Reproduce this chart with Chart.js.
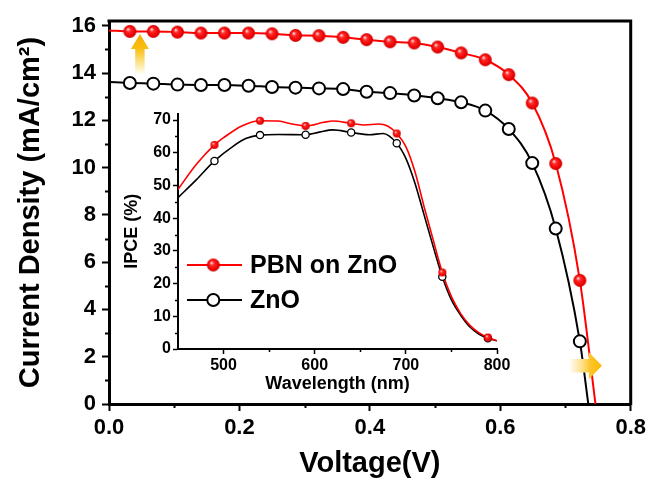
<!DOCTYPE html>
<html>
<head>
<meta charset="utf-8">
<script src="https://cdn.jsdelivr.net/npm/chart.js@4.4.1/dist/chart.umd.min.js"></script>
<style>
  html, body { margin: 0; padding: 0; background: #fff; }
  #wrap { position: relative; width: 650px; height: 480px; }
  #main { position: absolute; left: 0; top: 0; }
  #inset { position: absolute; left: 100px; top: 95px; }
</style>
</head>
<body>
<div id="wrap">
  <canvas id="main" width="650" height="480"></canvas>
  <canvas id="inset" width="420" height="305"></canvas>
</div>
<script>
// J-V data (main plot)
const voltage = [0.032, 0.068, 0.105, 0.141, 0.177, 0.214, 0.250, 0.286, 0.322, 0.359,
                 0.395, 0.431, 0.468, 0.504, 0.540, 0.577, 0.613, 0.649, 0.685, 0.722];
const jPbn = [15.76, 15.76, 15.73, 15.69, 15.69, 15.69, 15.66, 15.59, 15.58, 15.51,
              15.41, 15.32, 15.27, 15.10, 14.85, 14.56, 13.93, 12.73, 10.17, 5.23];
const jZnO = [13.58, 13.55, 13.51, 13.49, 13.49, 13.46, 13.41, 13.38, 13.35, 13.32,
              13.21, 13.15, 13.05, 12.93, 12.76, 12.41, 11.63, 10.19, 7.42, 2.65];
const jscPbn = 15.8, vocPbn = 0.746;
const jscZnO = 13.62, vocZnO = 0.735;
const vTicks = [0, 0.2, 0.4, 0.6, 0.8];
const vMinor = [0.1, 0.3, 0.5, 0.7];
const jTicks = [0, 2, 4, 6, 8, 10, 12, 14, 16];
const jMinor = [1, 3, 5, 7, 9, 11, 13, 15];

// IPCE data (inset)
const wlPbn = [450, 470, 490, 500, 520, 540, 560, 575, 590, 610, 620, 640, 655, 670,
               680, 690, 700, 710, 720, 730, 740, 750, 760, 770, 780, 790, 800];
const ipcePbn = [48.8, 56.4, 62.4, 64.6, 68.2, 69.8, 69.7, 68.8, 68.2, 69.3, 69.7, 69.0, 68.5, 68.8,
                 68.2, 65.9, 61.9, 54.2, 43.5, 33.3, 23.4, 16.0, 10.9, 7.3, 5.0, 3.5, 2.5];
const wlZnO = [450, 470, 490, 510, 525, 540, 560, 590, 605, 620, 640, 660, 675,
               690, 700, 710, 720, 730, 740, 750, 760, 770, 780, 790, 800];
const ipceZnO = [46.3, 51.7, 57.5, 61.9, 64.4, 65.4, 65.6, 65.5, 66.3, 67.0, 66.2, 65.5, 65.9,
                 62.9, 58.3, 50.7, 41.0, 31.3, 22.1, 15.0, 10.4, 6.8, 4.6, 3.3, 2.5];
const wlMarks = [490, 540, 590, 640, 690, 740, 790];
const ipcePbnMarks = [62.4, 69.8, 68.2, 69.0, 65.9, 23.4, 3.5];
const ipceZnOMarks = [57.5, 65.4, 65.5, 66.2, 62.9, 22.1, 3.3];
const wlTicks = [500, 600, 700, 800];
const wlMinor = [550, 650, 750];
const ipceTicks = [0, 10, 20, 30, 40, 50, 60, 70];
const ipceMinor = [5, 15, 25, 35, 45, 55, 65];

const FONT = '"Liberation Sans", Arial, sans-serif';
Chart.defaults.font.family = FONT;
Chart.defaults.color = '#000';

function pts(xs, ys) {
    return xs.map((x, i) => ({x: x, y: ys[i]}));
}

// glossy red ball used as point style
function redBall(r) {
    const c = document.createElement('canvas');
    const s = Math.ceil(r * 2) + 2;
    c.width = c.height = s;
    const g = c.getContext('2d');
    const m = s / 2;
    const grad = g.createRadialGradient(m - r * 0.3, m - r * 0.35, r * 0.05, m, m, r);
    grad.addColorStop(0, '#ffe0e0');
    grad.addColorStop(0.3, '#ff2a2a');
    grad.addColorStop(0.8, '#ee0000');
    grad.addColorStop(1, '#c00000');
    g.fillStyle = grad;
    g.beginPath();
    g.arc(m, m, r, 0, Math.PI * 2);
    g.fill();
    return c;
}

const minorTicks = {
    id: 'minorTicks',
    afterDraw(chart, args, opts) {
        const {ctx, chartArea: a, scales: {x, y}} = chart;
        ctx.save();
        ctx.strokeStyle = '#000';
        ctx.lineWidth = opts.width;
        ctx.beginPath();
        opts.x.forEach(v => {
            const px = Math.round(x.getPixelForValue(v)) + 0.5;
            ctx.moveTo(px, a.bottom);
            ctx.lineTo(px, a.bottom + opts.len);
        });
        opts.y.forEach(v => {
            const py = Math.round(y.getPixelForValue(v)) + 0.5;
            ctx.moveTo(a.left, py);
            ctx.lineTo(a.left - opts.len, py);
        });
        ctx.stroke();
        ctx.restore();
    }
};

const frame = {
    id: 'frame',
    afterDraw(chart) {
        const {ctx, chartArea: a} = chart;
        ctx.save();
        ctx.strokeStyle = '#000';
        ctx.lineWidth = 3;
        ctx.beginPath();
        ctx.moveTo(a.left - 1.5, a.top);
        ctx.lineTo(a.right, a.top);
        ctx.lineTo(a.right, a.bottom + 1.5);
        ctx.stroke();
        ctx.restore();
    }
};

// the two yellow arrows, placed in data units
const arrowUp = {v: 0.0474, jFrom: 13.93, jTip: 15.65};
const arrowRight = {j: 1.62, vFrom: 0.705, vTip: 0.7558};

const arrows = {
    id: 'arrows',
    afterDatasetsDraw(chart) {
        const {ctx, scales: {x, y}} = chart;
        ctx.save();
        // up arrow
        let cx = x.getPixelForValue(arrowUp.v);
        let y0 = y.getPixelForValue(arrowUp.jFrom);
        let y1 = y.getPixelForValue(arrowUp.jTip);
        let g = ctx.createLinearGradient(0, y1, 0, y0);
        g.addColorStop(0, '#f4ad00');
        g.addColorStop(0.35, '#f8bd10');
        g.addColorStop(0.7, '#fde38a');
        g.addColorStop(1, 'rgba(255,255,255,1)');
        ctx.fillStyle = g;
        ctx.beginPath();
        ctx.moveTo(cx, y1);
        ctx.lineTo(cx + 9, y1 + 15);
        ctx.lineTo(cx + 4.7, y1 + 15);
        ctx.lineTo(cx + 4.7, y0);
        ctx.lineTo(cx - 4.7, y0);
        ctx.lineTo(cx - 4.7, y1 + 15);
        ctx.lineTo(cx - 9, y1 + 15);
        ctx.closePath();
        ctx.fill();
        // right arrow
        let cy = y.getPixelForValue(arrowRight.j);
        let x0 = x.getPixelForValue(arrowRight.vFrom);
        let x1 = x.getPixelForValue(arrowRight.vTip);
        g = ctx.createLinearGradient(x0, 0, x1, 0);
        g.addColorStop(0, 'rgba(255,255,255,1)');
        g.addColorStop(0.4, '#fde08a');
        g.addColorStop(0.65, '#fcc52a');
        g.addColorStop(1, '#f9b800');
        ctx.fillStyle = g;
        ctx.beginPath();
        ctx.moveTo(x1, cy);
        ctx.lineTo(x1 - 13, cy - 13.5);
        ctx.lineTo(x1 - 13, cy - 6.7);
        ctx.lineTo(x0, cy - 6.7);
        ctx.lineTo(x0, cy + 6.7);
        ctx.lineTo(x1 - 13, cy + 6.7);
        ctx.lineTo(x1 - 13, cy + 13.5);
        ctx.closePath();
        ctx.fill();
        ctx.restore();
    }
};

const ballMain = redBall(6.5);
const ballInset = redBall(4);

new Chart(document.getElementById('main'), {
    type: 'scatter',
    data: {
        datasets: [
            {
                data: [{x: 0, y: jscZnO}].concat(pts(voltage, jZnO), [{x: vocZnO, y: 0}]),
                showLine: true, borderColor: '#000', borderWidth: 2, pointRadius: 0,
                cubicInterpolationMode: 'monotone', order: 4
            },
            {
                data: [{x: 0, y: jscPbn}].concat(pts(voltage, jPbn), [{x: vocPbn, y: 0}]),
                showLine: true, borderColor: '#ff0000', borderWidth: 2, pointRadius: 0,
                cubicInterpolationMode: 'monotone', order: 3
            },
            {
                data: pts(voltage, jZnO), pointStyle: 'circle', pointRadius: 6,
                borderColor: '#000', borderWidth: 2, backgroundColor: '#fff', order: 2
            },
            {
                data: pts(voltage, jPbn), pointStyle: ballMain, pointRadius: 6.5, order: 1
            }
        ]
    },
    options: {
        responsive: false,
        animation: false,
        events: [],
        layout: {padding: {top: 21, right: 18, left: 0, bottom: 0}},
        plugins: {
            legend: {display: false},
            tooltip: {enabled: false},
            minorTicks: {x: vMinor, y: jMinor, len: 4, width: 2}
        },
        scales: {
            x: {
                type: 'linear', min: 0, max: 0.8,
                afterBuildTicks: s => { s.ticks = vTicks.map(v => ({value: v})); },
                afterFit: s => { s.height = 76; },
                ticks: {callback: v => v.toFixed(1), font: {size: 22, weight: 'bold'}, padding: 4, maxRotation: 0, color: '#000'},
                grid: {drawOnChartArea: false, tickLength: 7, tickWidth: 2, tickColor: '#000'},
                border: {width: 3, color: '#000'},
                title: {display: true, text: 'Voltage(V)', color: '#000',
                        font: {size: 29, weight: 'bold', lineHeight: 1.1}, padding: {top: 0, bottom: 0}}
            },
            y: {
                type: 'linear', min: 0, max: 16.2,
                afterBuildTicks: s => { s.ticks = jTicks.map(v => ({value: v})); },
                afterFit: s => { s.width = 109; },
                ticks: {font: {size: 22, weight: 'bold'}, padding: 6, color: '#000'},
                grid: {drawOnChartArea: false, tickLength: 7, tickWidth: 2, tickColor: '#000'},
                border: {width: 3, color: '#000'},
                title: {display: true, text: 'Current Density (mA/cm²)', color: '#000',
                        font: {size: 29, weight: 'bold', lineHeight: 1.1}, padding: {top: 15, bottom: 0}}
            }
        }
    },
    plugins: [minorTicks, frame, arrows]
});

const insetLegend = {
    id: 'insetLegend',
    afterDraw(chart) {
        const ctx = chart.ctx;
        const rows = [
            {label: 'PBN on ZnO', color: '#ff0000', y: 170, ball: true},
            {label: 'ZnO', color: '#000', y: 205, ball: false}
        ];
        ctx.save();
        rows.forEach(r => {
            ctx.strokeStyle = r.color;
            ctx.lineWidth = 2;
            ctx.beginPath();
            ctx.moveTo(87, r.y);
            ctx.lineTo(142, r.y);
            ctx.stroke();
            if (r.ball) {
                const b = redBall(6.5);
                ctx.drawImage(b, 113.3 - b.width / 2, r.y - b.height / 2);
            } else {
                ctx.fillStyle = '#fff';
                ctx.lineWidth = 2;
                ctx.beginPath();
                ctx.arc(113.3, r.y, 6, 0, Math.PI * 2);
                ctx.fill();
                ctx.stroke();
            }
            ctx.fillStyle = '#000';
            ctx.font = 'bold 25px ' + FONT;
            ctx.textBaseline = 'middle';
            ctx.fillText(r.label, 150, r.y + 1);
        });
        ctx.restore();
    }
};

new Chart(document.getElementById('inset'), {
    type: 'scatter',
    data: {
        datasets: [
            {
                data: pts(wlZnO, ipceZnO), showLine: true, borderColor: '#000', borderWidth: 1.6,
                pointRadius: 0, cubicInterpolationMode: 'monotone', order: 4
            },
            {
                data: pts(wlPbn, ipcePbn), showLine: true, borderColor: '#ff0000', borderWidth: 1.6,
                pointRadius: 0, cubicInterpolationMode: 'monotone', order: 3
            },
            {
                data: pts(wlMarks, ipceZnOMarks), pointStyle: 'circle', pointRadius: 3.6,
                borderColor: '#000', borderWidth: 1.3, backgroundColor: '#fff', order: 2
            },
            {
                data: pts(wlMarks, ipcePbnMarks), pointStyle: ballInset, pointRadius: 4, order: 1
            }
        ]
    },
    options: {
        responsive: false,
        animation: false,
        events: [],
        layout: {padding: {top: 18.5, right: 23, left: 15, bottom: 0}},
        plugins: {
            legend: {display: false},
            tooltip: {enabled: false},
            minorTicks: {x: wlMinor, y: ipceMinor, len: 3, width: 1.5}
        },
        scales: {
            x: {
                type: 'linear', min: 450, max: 800,
                afterBuildTicks: s => { s.ticks = wlTicks.map(v => ({value: v})); },
                afterFit: s => { s.height = 51; },
                ticks: {font: {size: 16, weight: 'bold'}, padding: 2, maxRotation: 0, color: '#000'},
                grid: {drawOnChartArea: false, tickLength: 5, tickWidth: 1.5, tickColor: '#000'},
                border: {width: 2, color: '#000'},
                title: {display: true, text: 'Wavelength (nm)', color: '#000',
                        font: {size: 18, weight: 'bold'}, padding: {top: 0, bottom: 5}}
            },
            y: {
                type: 'linear', min: 0, max: 72,
                afterBuildTicks: s => { s.ticks = ipceTicks.map(v => ({value: v})); },
                afterFit: s => { s.width = 63; },
                ticks: {font: {size: 16, weight: 'bold'}, padding: 2, color: '#000'},
                grid: {drawOnChartArea: false, tickLength: 5, tickWidth: 1.5, tickColor: '#000'},
                border: {width: 2, color: '#000'},
                title: {display: true, text: 'IPCE (%)', color: '#000',
                        font: {size: 18, weight: 'bold'}, padding: {top: 6, bottom: 0}}
            }
        }
    },
    plugins: [minorTicks, insetLegend]
});
</script>
</body>
</html>
